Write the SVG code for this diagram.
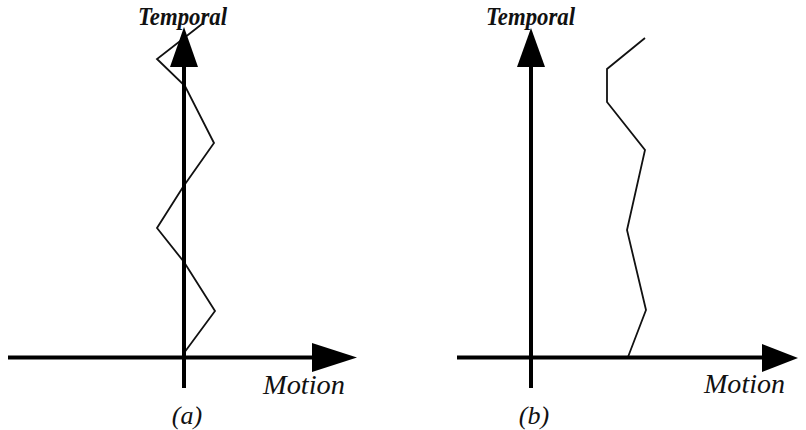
<svg xmlns="http://www.w3.org/2000/svg" width="806" height="430" viewBox="0 0 806 430">
<style>
.axis{stroke:#000;stroke-width:4;fill:none}
.head{fill:#000;stroke:none}
.curve{stroke:#111;stroke-width:1.8;fill:none;stroke-linejoin:miter}
.lbl{font-family:"Liberation Serif","Times New Roman",serif;font-style:italic;fill:#111}
.title{font-weight:bold;font-size:26px}
</style>
<rect width="806" height="430" fill="#fff"/>
<g id="panel-a">
  <text class="lbl title" x="138" y="25" textLength="89" lengthAdjust="spacingAndGlyphs">Temporal</text>
  <polyline class="curve" points="202,24 157,59 185,86 214,143 183,187 157,228 184,262 215,311 184,353"/>
  <g id="axes-a">
    <line class="axis" x1="8" y1="357.5" x2="320" y2="357.5"/>
    <line class="axis" x1="184" y1="60" x2="184" y2="388"/>
    <polygon class="head" points="170,67 184,27 198,67"/>
    <polygon class="head" points="312,343 357,357.5 312,372"/>
  </g>
  <text class="lbl" x="263" y="394" font-size="27" textLength="82" lengthAdjust="spacingAndGlyphs">Motion</text>
  <text class="lbl" x="187" y="424" font-size="26" text-anchor="middle">(a)</text>
</g>
<g id="panel-b">
  <text class="lbl title" x="486" y="25" textLength="89" lengthAdjust="spacingAndGlyphs">Temporal</text>
  <polyline class="curve" points="645,38 607,69 607,102 645,150 627,230 646,310 628,357"/>
  <g id="axes-b">
    <line class="axis" x1="457" y1="357.5" x2="770" y2="357.5"/>
    <line class="axis" x1="531" y1="60" x2="531" y2="388"/>
    <polygon class="head" points="517,67 531,28 545,67"/>
    <polygon class="head" points="762,344 798,358 762,372"/>
  </g>
  <text class="lbl" x="704" y="393" font-size="27" textLength="81" lengthAdjust="spacingAndGlyphs">Motion</text>
  <text class="lbl" x="534" y="424" font-size="26" text-anchor="middle">(b)</text>
</g>
</svg>
